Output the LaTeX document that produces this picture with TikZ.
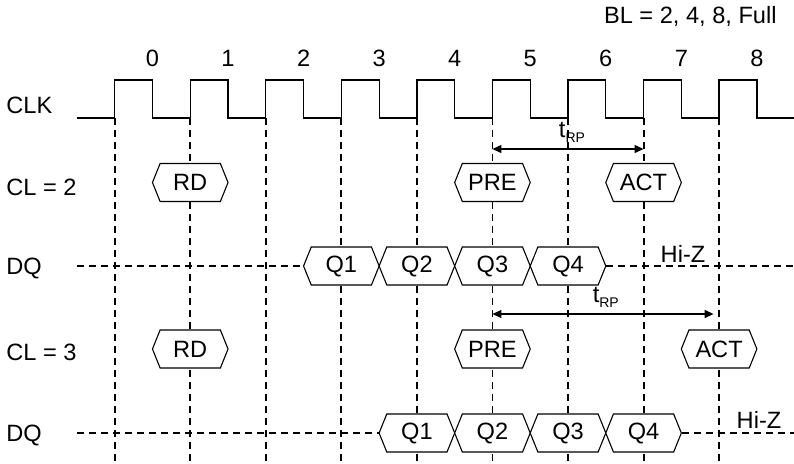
\documentclass[tikz,border=0pt]{standalone}
\usepackage{fontspec}
\setmainfont{Liberation Sans}
\usetikzlibrary{positioning,shapes.symbols,arrows.meta}

\begin{document}
\begin{tikzpicture}[
	x=0.5pt, y=-0.5pt,
	font=\fontsize{11.8}{14}\selectfont,
	lbl/.style={anchor=west, inner sep=0pt},
	cmd/.style={signal, signal to=west and east, signal pointer angle=136,
	draw, fill=white, line width=0.55pt, minimum width=37.8pt,
	minimum height=19pt, inner sep=0pt},
	guide/.style={line width=0.95pt, dash pattern=on 3.5pt off 2.5pt},
	wave/.style={line width=0.65pt},
	span/.style={line width=0.55pt,
	{Triangle[length=4.5pt,width=4pt]}-{Triangle[length=4.5pt,width=4pt]}},
	rp/.style={midway, above=3pt, inner sep=0pt}
	]
	\useasboundingbox (0,0) rectangle (794,463);
	
	% rising edges and rows
	\foreach \k in {0,...,9}
		\coordinate (e\k) at (114.7+75.55*\k,118);
	\coordinate (cmdA) at (0,182.5);
	\coordinate (dqA) at (0,266);
	\coordinate (cmdB) at (0,349);
	\coordinate (dqB) at (0,433);
	
	\foreach \k in {0,...,9}
		\draw[guide] (e\k) -- ++(0,345);
	
	% clock
	\draw[wave] (77,118) foreach \k in {0,...,8} {
		-- (e\k) -- ++(0,-38) -- ++(37.8,0) -- ++(0,38)} -- (794,118);
	\foreach \k in {0,...,8}
		\node (n\k) at (152.5+75.55*\k,58) {\k};
	\node[anchor=east, inner sep=0pt] (bl) at (777,16) {BL = 2, 4, 8, Full};
	
	% signal names
	\node[lbl] (clk) at (6,105) {CLK};
	\node[lbl] (cl2) at (6,187) {CL = 2};
	\node[lbl] (dq2) at (6,268) {DQ};
	\node[lbl] (cl3) at (6,352) {CL = 3};
	\node[lbl] (dq3) at (6,435) {DQ};
	
	% CL = 2
	\node[cmd] (rdA) at (e1 |- cmdA) {RD};
	\node[cmd] (preA) at (e5 |- cmdA) {PRE};
	\node[cmd] (actA) at (e7 |- cmdA) {ACT};
	\foreach \i/\k in {1/3,2/4,3/5,4/6}
		\node[cmd] (qA\i) at (e\k |- dqA) {Q\i};
	\coordinate (dqAs) at (77,266);
	\coordinate (dqAe) at (794,266);
	\draw[guide] (dqAs) -- (qA1.west);
	\draw[guide] (qA4.east) -- (dqAe);
	\node[anchor=base, inner sep=0pt] (hzA) at (683,262) {Hi-Z};
	
	% CL = 3
	\node[cmd] (rdB) at (e1 |- cmdB) {RD};
	\node[cmd] (preB) at (e5 |- cmdB) {PRE};
	\node[cmd] (actB) at (e8 |- cmdB) {ACT};
	\foreach \i/\k in {1/4,2/5,3/6,4/7}
		\node[cmd] (qB\i) at (e\k |- dqB) {Q\i};
	\coordinate (dqBs) at (77,433);
	\coordinate (dqBe) at (794,433);
	\draw[guide] (dqBs) -- (qB1.west);
	\draw[guide] (qB4.east) -- (dqBe);
	\node[anchor=base, inner sep=0pt] (hzB) at (759,428) {Hi-Z};
	
	% tRP
	\coordinate (ta1) at (e5 |- 0,149);
	\coordinate (ta2) at (e7 |- 0,149);
	\coordinate (tb1) at (e5 |- 0,314);
	\coordinate (tb2) at (e8 |- 0,314);
	\draw[span] (ta1) -- (ta2)
		node[rp, xshift=2pt] {t\raisebox{-2.5pt}{\fontsize{7}{8}\selectfont RP}};
	\draw[span, shorten >=2.75pt] (tb1) -- (tb2)
		node[rp] {t\raisebox{-2.5pt}{\fontsize{7}{8}\selectfont RP}};
\end{tikzpicture}
\end{document}
